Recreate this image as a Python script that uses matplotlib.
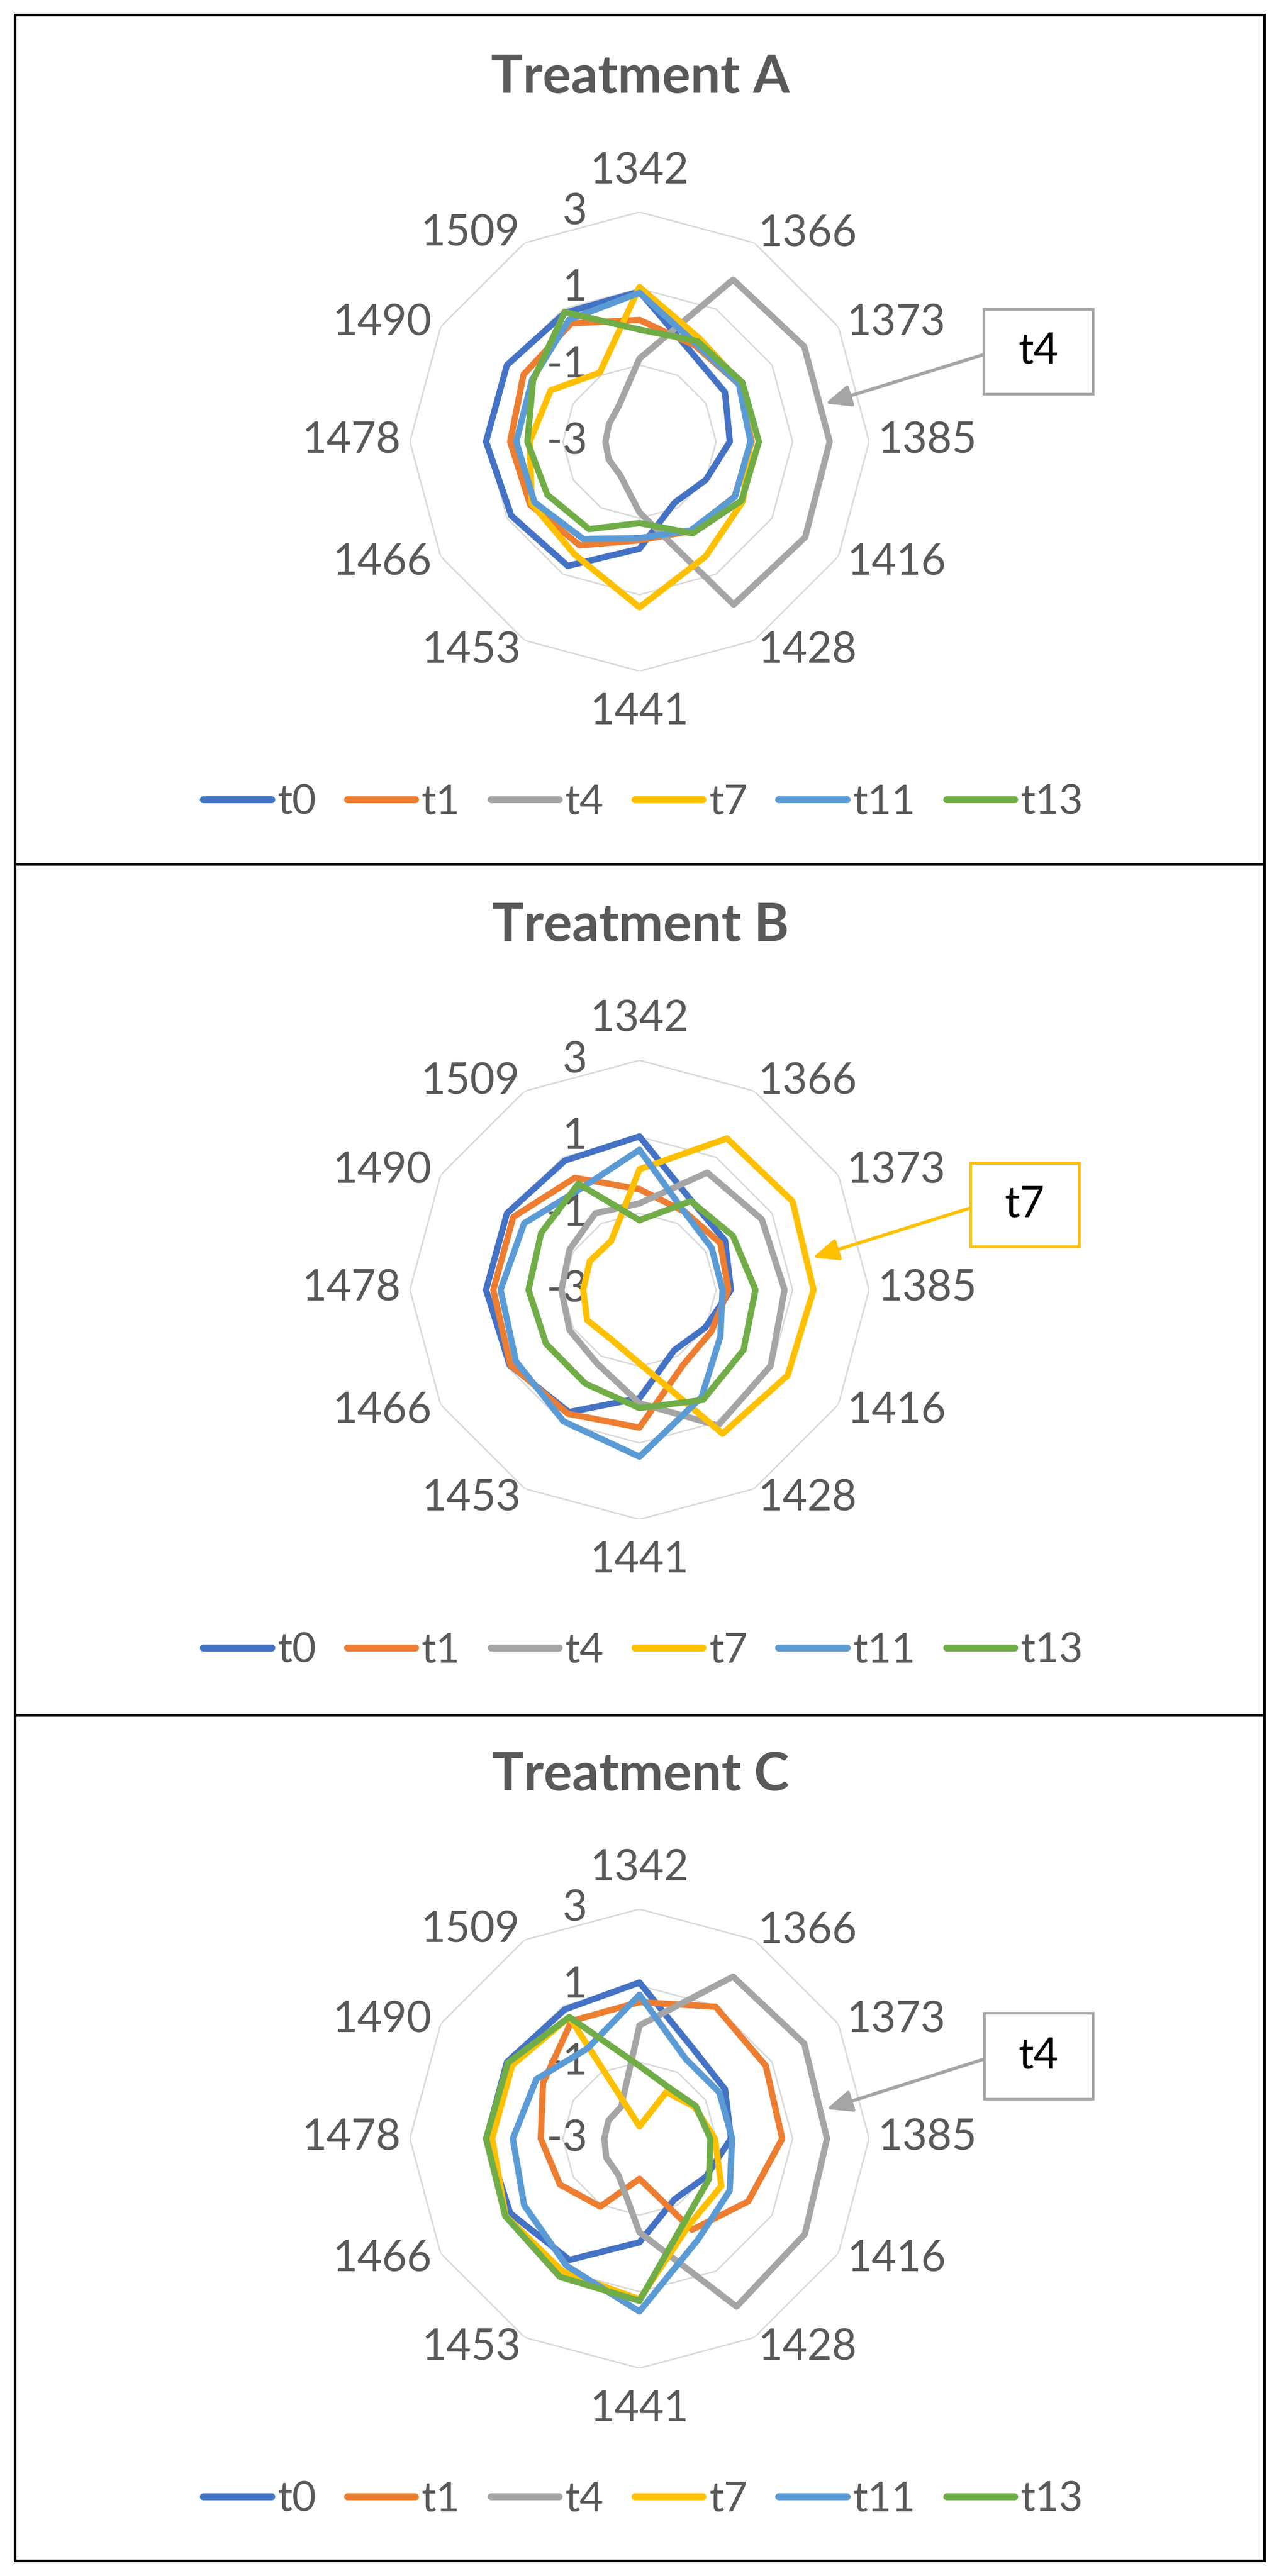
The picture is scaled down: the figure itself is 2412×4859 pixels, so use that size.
import numpy as np
import matplotlib
matplotlib.use("Agg")
import matplotlib.pyplot as plt
from matplotlib.patches import Rectangle
from matplotlib.lines import Line2D
from matplotlib.transforms import offset_copy

plt.rcParams["font.family"] = ["Lato", "DejaVu Sans"]

# ---- data ----
categories = ["1342", "1366", "1373", "1385", "1416", "1428",
              "1441", "1453", "1466", "1478", "1490", "1509"]
series_names = ["t0", "t1", "t4", "t7", "t11", "t13"]
panel_titles = ["Treatment A", "Treatment B", "Treatment C"]
radial_ticks = [-3, -1, 1, 3]

a_t0 = [0.92, -0.30, -0.42, -0.64, -1.00, -1.16, -0.20, 0.75, 0.87, 1.01, 1.00, 0.89]
a_t1 = [0.18, -0.10, 0.00, -0.07, -0.13, -0.30, -0.42, 0.13, 0.30, 0.38, 0.50, 0.57]
a_t4 = [-0.83, 1.89, 1.97, 1.97, 2.00, 1.92, -1.15, -1.99, -2.07, -2.11, -2.08, -1.92]
a_t7 = [1.04, 0.12, 0.06, -0.10, 0.12, 0.46, 1.33, 0.40, 0.25, -0.13, -0.32, -0.92]
a_t11 = [0.89, -0.05, 0.00, -0.10, -0.12, -0.32, -0.48, -0.06, 0.17, 0.22, 0.24, 0.68]
a_t13 = [-0.07, 0.03, 0.10, 0.12, 0.08, -0.23, -0.87, -0.36, -0.22, -0.07, 0.21, 0.91]

b_t0 = [1.01, -0.30, -0.42, -0.61, -1.02, -1.18, -0.17, 0.69, 0.92, 1.01, 1.00, 0.90]
b_t1 = [-0.37, -0.64, -0.56, -0.68, -0.83, -0.73, 0.60, 0.74, 0.90, 0.82, 0.81, 0.38]
b_t4 = [-0.74, 0.54, 0.69, 0.79, 0.96, 1.10, -0.04, -0.78, -0.89, -0.96, -0.89, -0.69]
b_t7 = [0.15, 1.57, 1.62, 1.55, 1.47, 1.34, -1.08, -1.51, -1.42, -1.53, -1.50, -1.52]
b_t11 = [0.66, -0.65, -0.82, -0.83, -0.56, 0.24, 1.36, 0.97, 0.73, 0.63, 0.48, 0.06]
b_t13 = [-1.18, -0.32, -0.18, 0.03, 0.14, 0.32, 0.09, -0.17, -0.18, -0.10, -0.03, 0.20]

c_t0 = [1.08, -0.25, -0.42, -0.61, -1.00, -1.17, -0.29, 0.66, 0.90, 1.00, 1.00, 0.90]
c_t1 = [0.57, 0.98, 0.81, 0.73, 0.28, -0.25, -1.95, -0.95, -0.60, -0.42, -0.09, 0.55]
c_t4 = [-0.04, 1.89, 1.97, 1.90, 1.99, 2.07, -0.55, -1.90, -2.00, -2.08, -2.06, -2.04]
c_t7 = [-2.68, -1.59, -1.34, -1.03, -0.53, -0.40, 1.20, 1.01, 1.04, 0.85, 0.84, 0.67]
c_t11 = [0.76, -0.59, -0.59, -0.58, -0.28, 0.05, 1.52, 0.83, 0.48, 0.31, 0.11, -0.28]
c_t13 = [-1.10, -1.46, -1.30, -1.15, -0.90, -0.57, 1.24, 1.17, 1.05, 1.01, 0.97, 0.67]

panels = [
    [a_t0, a_t1, a_t4, a_t7, a_t11, a_t13],
    [b_t0, b_t1, b_t4, b_t7, b_t11, b_t13],
    [c_t0, c_t1, c_t4, c_t7, c_t11, c_t13],
]

# callout per panel: text, colour, arrow target (angle in deg, value)
callouts = [("t4", "#A5A5A5", 78.4, 1.96),
            ("t7", "#FFC000", 79.4, 1.61),
            ("t4", "#A5A5A5", 81.0, 1.95)]

# ---- style / layout (pixels) ----
colors = ["#4472C4", "#ED7D31", "#A5A5A5", "#FFC000", "#5B9BD5", "#70AD47"]
text_grey = "#595959"
grid_grey = "#D9D9D9"
W, H = 2412, 4859
cx, R = 1206, 433
centers_y = [833, 2433, 4034]
# category label centres, pixel offsets from the chart centre (x right, y down)
label_off = [(0, -510), (317, -392), (484, -224), (543, -2), (485, 227), (317, 394),
             (0, 510), (-317, 394), (-485, 227), (-543, -2), (-485, -224), (-319, -393)]
# callout box: x0, top offset, x1, bottom offset (relative to chart centre y)
box_offsets = [(1855, -250, 2061, -90), (1830, -239, 2035, -82), (1856, -237, 2061, -75)]
LW = 8.5

fig = plt.figure(figsize=(W / 100, H / 100), dpi=100)


def fx(x):
    return x / W


def fy(y):
    return 1 - y / H


theta = np.deg2rad(np.arange(len(categories)) * 360 / len(categories))
theta_closed = np.append(theta, theta[0])

for p, cy in enumerate(centers_y):
    ax = fig.add_axes([fx(cx - R), fy(cy + R), 2 * R / W, 2 * R / H], projection="polar")
    ax.set_theta_zero_location("N")
    ax.set_theta_direction(-1)
    ax.set_ylim(-3, 3)
    ax.set_xticks([])
    ax.set_yticks([])
    ax.grid(False)
    ax.spines["polar"].set_visible(False)
    ax.patch.set_alpha(0)

    # polygon gridlines
    for lvl in radial_ticks[1:]:
        ax.plot(theta_closed, [lvl] * len(theta_closed), color=grid_grey, lw=2, zorder=1)

    # series
    for vals, name, col in zip(panels[p], series_names, colors):
        ax.plot(theta_closed, vals + vals[:1], color=col, lw=LW, label=name,
                solid_joinstyle="round", solid_capstyle="round", zorder=3)

    # radial tick labels
    tr = offset_copy(ax.transData, fig=fig, x=-99, y=0, units="dots")
    for lvl in radial_ticks:
        ax.text(0, lvl, str(lvl), transform=tr, ha="right", va="center",
                fontsize=58, color=text_grey, zorder=2)

    # category labels
    for cat, (dx, dy) in zip(categories, label_off):
        trc = offset_copy(ax.transData, fig=fig, x=dx, y=-dy, units="dots")
        ax.text(0, -3, cat, transform=trc, ha="center", va="center",
                fontsize=58, color=text_grey)

    # title
    fig.text(fx(1208), fy(cy - 686), panel_titles[p], ha="center", va="center",
             fontsize=72, fontweight="bold", color=text_grey)

    # legend
    handles = [Line2D([], [], color=c, lw=9.5, solid_capstyle="round") for c in colors]
    leg = ax.legend(handles, series_names, loc="center",
                    bbox_to_anchor=(fx(1213), fy(cy + 681)), bbox_transform=fig.transFigure,
                    ncol=6, frameon=False, fontsize=56, handlelength=1.65,
                    handletextpad=0.15, columnspacing=0.75)
    for txt in leg.get_texts():
        txt.set_color(text_grey)

    # callout box with arrow
    label, ccol, ang, val = callouts[p]
    x0, dy0, x1, dy1 = box_offsets[p]
    y0, y1 = cy + dy0, cy + dy1
    fig.add_artist(Rectangle((fx(x0), fy(y1)), (x1 - x0) / W, (y1 - y0) / H,
                             transform=fig.transFigure, facecolor="white",
                             edgecolor=ccol, lw=3.5, zorder=5))
    fig.text(fx((x0 + x1) / 2), fy((y0 + y1) / 2), label, ha="center", va="center",
             fontsize=58, color="black", zorder=6)
    ax.annotate("", xy=(np.deg2rad(ang), val), xycoords="data",
                xytext=(x0, H - (y0 + y1) / 2 - 6), textcoords="figure pixels",
                arrowprops=dict(arrowstyle="-|>,head_length=2.9,head_width=1.25",
                                color=ccol, lw=4.5, shrinkA=0, shrinkB=0,
                                mutation_scale=10),
                annotation_clip=False, zorder=4)

# panel borders
left, right, top, bottom = 28, 2384, 28, 4830
fig.add_artist(Rectangle((fx(left), fy(bottom)), (right - left) / W, (bottom - top) / H,
                         transform=fig.transFigure, fill=False, edgecolor="black", lw=3.6))
for yline in [1630, 3235]:
    fig.add_artist(Line2D([fx(left), fx(right)], [fy(yline), fy(yline)],
                          color="black", lw=3.6, transform=fig.transFigure))

fig.savefig("out.png", dpi=100, facecolor="white")
